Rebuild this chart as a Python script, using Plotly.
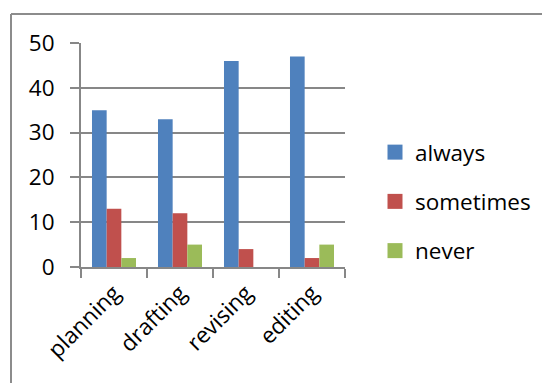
import plotly.graph_objects as go

categories = ["planning", "drafting", "revising", "editing"]
always = [35, 33, 46, 47]
sometimes = [13, 12, 4, 2]
never = [2, 5, 0, 5]
series_names = ["always", "sometimes", "never"]
colors = ["#4F81BD", "#C0504D", "#9BBB59"]

W, H = 542, 383
L, R, T, B = 81, 345, 43, 267  # plot area in px

fig = go.Figure()
for name, vals, c in zip(series_names, [always, sometimes, never], colors):
    fig.add_trace(go.Bar(x=categories, y=vals, name=name, marker_color=c,
                         marker_line_width=0, showlegend=False))
for i, (name, c) in enumerate(zip(series_names, colors)):
    fig.add_trace(go.Scatter(x=[None], y=[None], mode="markers", name=name,
                             legendgroup=f"g{i}",
                             marker=dict(symbol="square", size=15, color=c)))

font = dict(family="Open Sans", size=22.5, color="#000000")
grey = "#878787"

def px_to_paper_x(px):
    return (px - L) / (R - L)

def px_to_paper_y(py):
    return (B - py) / (B - T)

fig.update_layout(
    width=W, height=H,
    margin=dict(l=L, r=W - R, t=T, b=H - B, pad=0, autoexpand=False),
    paper_bgcolor="white", plot_bgcolor="white",
    font=font,
    barmode="group", bargap=0.333, bargroupgap=0,
    xaxis=dict(showline=True, linecolor=grey, linewidth=2,
               ticks="outside", ticklen=9, tickwidth=2, tickcolor=grey,
               tickson="boundaries", tickangle=-45, showgrid=False,
               tickfont=font, ticklabelstandoff=2, automargin=False),
    yaxis=dict(range=[0, 50], dtick=10, showline=True, linecolor=grey, linewidth=2,
               showgrid=True, gridcolor=grey, gridwidth=2,
               ticks="outside", ticklen=9, tickwidth=2, tickcolor=grey,
               zeroline=False, tickfont=font, ticklabelstandoff=11, automargin=False),
    legend=dict(x=px_to_paper_x(375), y=px_to_paper_y(131), xanchor="left", yanchor="top",
                font=font, tracegroupgap=17, bgcolor="rgba(0,0,0,0)"),
    shapes=[
        dict(type="line", xref="paper", yref="paper",
             x0=px_to_paper_x(11), x1=px_to_paper_x(W + 2),
             y0=px_to_paper_y(14), y1=px_to_paper_y(14),
             line=dict(color="#8c8c8c", width=2)),
        dict(type="line", xref="paper", yref="paper",
             x0=px_to_paper_x(11), x1=px_to_paper_x(11),
             y0=px_to_paper_y(14), y1=px_to_paper_y(H + 2),
             line=dict(color="#8c8c8c", width=2)),
    ],
)

fig.write_html("out.html")
